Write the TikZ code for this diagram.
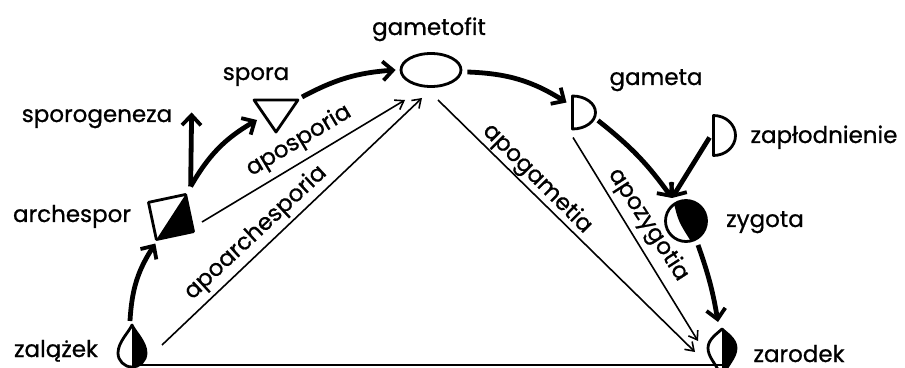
\documentclass[tikz,border=0pt]{standalone}
\usepackage{fontspec}
\setmainfont{Poppins}[FakeBold=0.8]
\usetikzlibrary{arrows.meta,shapes.geometric,calc}
\newcommand\dropzal{(0,28) .. controls (-3,21) and (-14,11) .. (-14,0) arc[start angle=180,end angle=360,radius=14] .. controls (14,11) and (3,21) .. (0,28) -- cycle}
\newcommand\dropzar{(0,19) .. controls (-4,15) and (-14,9) .. (-14,0) .. controls (-14,-9) and (-6,-16) .. (-3,-24) -- (3,-24) .. controls (6,-16) and (14,-9) .. (14,0) .. controls (14,9) and (4,15) .. (0,19) -- cycle}
\begin{document}
\begin{tikzpicture}[x=1pt,y=1pt,
  txt/.style={font=\fontsize{23}{25}\selectfont, inner sep=0pt, anchor=base},
  rlbl/.style={font=\fontsize{23}{25}\selectfont, inner sep=0pt},
  hole/.style={inner sep=0pt, outer sep=0pt},
  shapeline/.style={line width=2.8pt, line join=round},
  bigarrow/.style={line width=4.8pt, -{Straight Barb[length=10pt,width=19pt,line width=3.8pt]}},
  thinarrow/.style={line width=1.6pt, -{Straight Barb[length=8pt,width=11pt,line width=1.6pt]}},
]
\useasboundingbox (0,0) rectangle (905,367);
\fill[white] (0,0) rectangle (905,367);

% shape placeholders
\node[hole, minimum width=38pt, minimum height=38pt, rotate=12] (sq) at (171,150) {};
\node[hole, minimum width=44pt, minimum height=32pt] (tri) at (276,251) {};
\node[draw, ellipse, line width=2.8pt, minimum width=60pt, minimum height=33pt, inner sep=0pt] (gf) at (431,297) {};
\node[hole, minimum width=23pt, minimum height=33pt] (gam) at (584,254.5) {};
\node[hole, minimum width=22pt, minimum height=40pt] (zap) at (724.5,231.5) {};
\node[hole, circle, minimum size=41pt] (zyg) at (686,146) {};
\node[hole, minimum width=28pt, minimum height=56pt] (zal) at (132,14) {};
\node[hole, minimum width=28pt, minimum height=38pt] (zar) at (722,19) {};

% square archespor
\fill (sq.south west) -- (sq.north east) -- (sq.south east) -- cycle;
\draw[shapeline] (sq.north west) -- (sq.north east) -- (sq.south east) -- (sq.south west) -- cycle;
% triangle spora
\draw[shapeline] (tri.north west) -- (tri.north east) -- (tri.south) -- cycle;
% half discs
\draw[shapeline] (gam.north west) -- (gam.south west) arc[start angle=-90,end angle=90,x radius=23pt,y radius=16.5pt] -- cycle;
\draw[shapeline] (zap.north west) -- (zap.south west) arc[start angle=-90,end angle=90,x radius=22pt,y radius=20pt] -- cycle;
% zygota
\begin{scope}
  \clip (zyg.center) circle[radius=20.5pt];
  \fill ($(zyg.center)+(-13,22)$) .. controls ($(zyg.center)+(-8,0)$) .. ($(zyg.center)+(6,-22)$) -- ++(30,0) -- ++(0,46) -- cycle;
\end{scope}
\draw[shapeline] (zyg.center) circle[radius=20.5pt];
% drops
\begin{scope}[shift={(zal.center)}]
  \begin{scope}\clip (0,-30) rectangle (20,30); \fill \dropzal; \end{scope}
  \draw[shapeline] \dropzal;
\end{scope}
\begin{scope}[shift={(zar.center)}]
  \begin{scope}\clip (0,-30) rectangle (20,30); \fill \dropzar; \end{scope}
  \draw[shapeline] \dropzar;
\end{scope}

% texts
\node[txt] (tgf) at (429,332) {gametofit};
\node[txt] (tsp) at (256,287) {spora};
\node[txt] (tspg) at (97,245) {sporogeneza};
\node[txt] (tar) at (72,145) {archespor};
\node[txt] (tzal) at (56,10) {zalążek};
\node[txt] (tzar) at (799,5) {zarodek};
\node[txt] (tzyg) at (765,140) {zygota};
\node[txt] (tgam) at (656,282) {gameta};
\node[txt] (tzap) at (824,224) {zapłodnienie};

% thick arrows
\coordinate (fork) at ($(sq.north east)+(5,8)$);
\coordinate (zt) at ($(zyg.center)+(-14,23)$);
\draw[bigarrow] ($(zal.north)+(-2,4)$) to[bend left=15] ($(sq.south west)+(-1,-4)$);
\draw[bigarrow] (fork) -- ($(fork)+(1,74)$);
\draw[bigarrow] (fork) to[bend left=15] ($(tri.west)+(3,-4)$);
\draw[bigarrow] ($(tri.north east)+(4,3)$) to[bend left=12] ($(gf.west)+(-4,0)$);
\draw[bigarrow] ($(gf.east)+(5,-2)$) to[bend left=15] ($(gam.west)+(-6,10)$);
\draw[bigarrow] ($(gam.center)+(14,-8)$) to[bend left=8] (zt);
\draw[bigarrow] ($(zap.west)+(-4,-2)$) -- (zt);
\draw[bigarrow] ($(zyg.center)+(12,-24)$) to[bend left=5] ($(zar.north)+(-4,7)$);

% thin arrows
\draw[thinarrow] ($(sq.center)+(31,-5)$) -- ($(gf.center)+(-26,-30)$);
\draw[thinarrow] ($(zal.center)+(30,8)$) -- ($(gf.center)+(-9,-28)$);
\draw[thinarrow] ($(gf.center)+(7,-30)$) -- ($(zar.center)+(-27,-4)$);
\draw[thinarrow] ($(gam.center)+(-11,-25)$) -- ($(zar.center)+(-24,7)$);
\draw[line width=2.5pt] ($(zal.center)+(8,-12)$) -- ($(zar.center)+(0,-17)$);

% rotated labels
\node[rlbl, rotate=31] (laps) at (299,226) {aposporia};
\node[rlbl, rotate=43] (lapa) at (256,134) {apoarchesporia};
\node[rlbl, rotate=-45] (lapg) at (537,188) {apogametia};
\node[rlbl, rotate=-57] (lapz) at (648,142) {apozygotia};
\end{tikzpicture}
\end{document}
